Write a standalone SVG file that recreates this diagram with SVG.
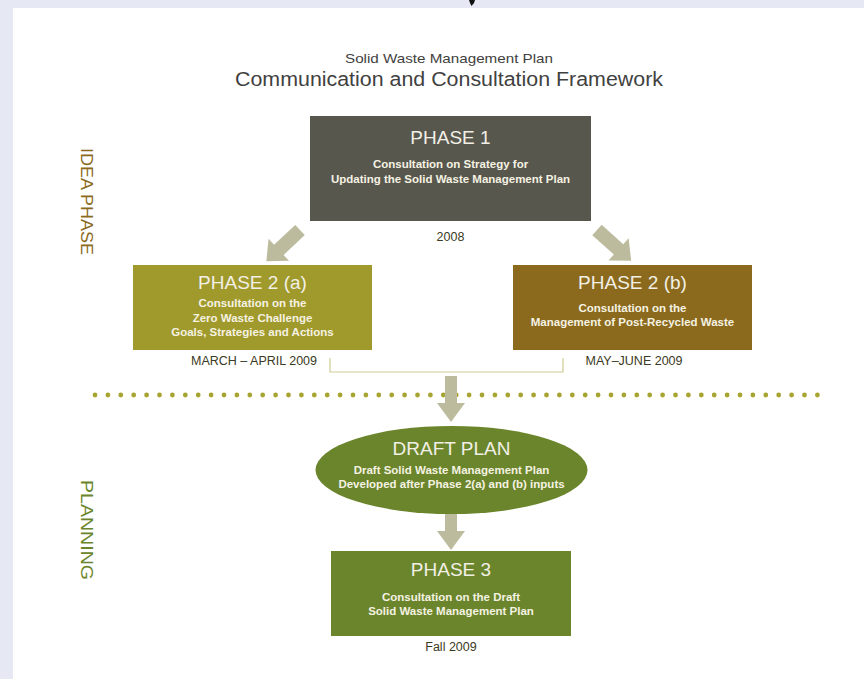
<svg xmlns="http://www.w3.org/2000/svg" width="864" height="679" viewBox="0 0 864 679">
  <style>
    .ttl { font-family: "Liberation Sans", Arial, sans-serif; fill: #3f4140; text-anchor: middle; }
    .ph { font-family: "Liberation Sans", Arial, sans-serif; font-size: 19px; fill: #f2f0e6; text-anchor: middle; }
    .sub { font-family: "Liberation Sans", Arial, sans-serif; font-size: 11.5px; font-weight: bold; fill: #f5f2e2; text-anchor: middle; }
    .date { font-family: "Liberation Sans", Arial, sans-serif; font-size: 12.5px; fill: #3b3a22; text-anchor: middle; }
    .side { font-family: "Liberation Sans", Arial, sans-serif; font-size: 17px; }
    .arrow { fill: #bdbb9e; }
  </style>
  <defs>
    <polygon id="arr" points="0,-7 29,-7 29,-15 46,0 29,15 29,7 0,7"/>
    <polygon id="darr" points="0,-6 27,-6 27,-14 46,0 27,14 27,6 0,6"/>
  </defs>
  <rect x="0" y="0" width="864" height="679" fill="#e6e9f3"/>
  <rect x="13" y="8" width="851" height="671" fill="#ffffff"/>
  <path d="M469,0 L475,0 L474,3 L471.5,6 L470,3 Z" fill="#111111"/>

  <g id="title">
    <text class="ttl" x="449" y="63" font-size="13" textLength="208" lengthAdjust="spacingAndGlyphs">Solid Waste Management Plan</text>
    <text class="ttl" x="449" y="86" font-size="20" textLength="428" lengthAdjust="spacingAndGlyphs">Communication and Consultation Framework</text>
  </g>

  <g id="label-idea">
    <text class="side" fill="#8b6a1e" transform="translate(81,148) rotate(90)" textLength="107" lengthAdjust="spacingAndGlyphs">IDEA PHASE</text>
  </g>
  <g id="label-planning">
    <text class="side" fill="#6a852b" transform="translate(81,480) rotate(90)" textLength="100" lengthAdjust="spacingAndGlyphs">PLANNING</text>
  </g>

  <g id="connectors">
    <use href="#arr" class="arrow" transform="translate(300,230) rotate(137)"/>
    <use href="#arr" class="arrow" transform="translate(597,230) rotate(42)"/>
    <polyline points="330,358 330,372 563,372 563,358" fill="none" stroke="#cfcb95" stroke-width="1.2"/>
    <line x1="95" y1="395" x2="830" y2="395" stroke="#a8a431" stroke-width="4.8" stroke-linecap="round" stroke-dasharray="0 12.9"/>
    <use href="#darr" class="arrow" transform="translate(451,376) rotate(90)"/>
    <use href="#darr" class="arrow" transform="translate(451,504) rotate(90)"/>
  </g>

  <g id="phase1">
    <rect x="310" y="116" width="281" height="105" fill="#58574e"/>
    <text class="ph" x="450.5" y="144">PHASE 1</text>
    <text class="sub" x="450.5" y="168">Consultation on Strategy for</text>
    <text class="sub" x="450.5" y="183">Updating the Solid Waste Management Plan</text>
    <text class="date" x="450.5" y="241">2008</text>
  </g>

  <g id="phase2a">
    <rect x="133" y="265" width="239" height="85" fill="#a0992b"/>
    <text class="ph" x="252.5" y="289">PHASE 2 (a)</text>
    <text class="sub" x="252.5" y="307">Consultation on the</text>
    <text class="sub" x="252.5" y="322">Zero Waste Challenge</text>
    <text class="sub" x="252.5" y="336">Goals, Strategies and Actions</text>
    <text class="date" x="254" y="365">MARCH – APRIL 2009</text>
  </g>

  <g id="phase2b">
    <rect x="513" y="265" width="239" height="85" fill="#8b6a1e"/>
    <text class="ph" x="632.5" y="289">PHASE 2 (b)</text>
    <text class="sub" x="632.5" y="312">Consultation on the</text>
    <text class="sub" x="632.5" y="326">Management of Post-Recycled Waste</text>
    <text class="date" x="634" y="365">MAY–JUNE 2009</text>
  </g>

  <g id="draft-plan">
    <ellipse cx="451.5" cy="470" rx="136" ry="44" fill="#6a852b"/>
    <text class="ph" x="451.5" y="455">DRAFT PLAN</text>
    <text class="sub" x="451.5" y="474">Draft Solid Waste Management Plan</text>
    <text class="sub" x="451.5" y="488">Developed after Phase 2(a) and (b) inputs</text>
  </g>

  <g id="phase3">
    <rect x="331" y="551" width="240" height="85" fill="#6a852b"/>
    <text class="ph" x="451" y="576">PHASE 3</text>
    <text class="sub" x="451" y="601">Consultation on the Draft</text>
    <text class="sub" x="451" y="615">Solid Waste Management Plan</text>
    <text class="date" x="451" y="651">Fall 2009</text>
  </g>
</svg>
